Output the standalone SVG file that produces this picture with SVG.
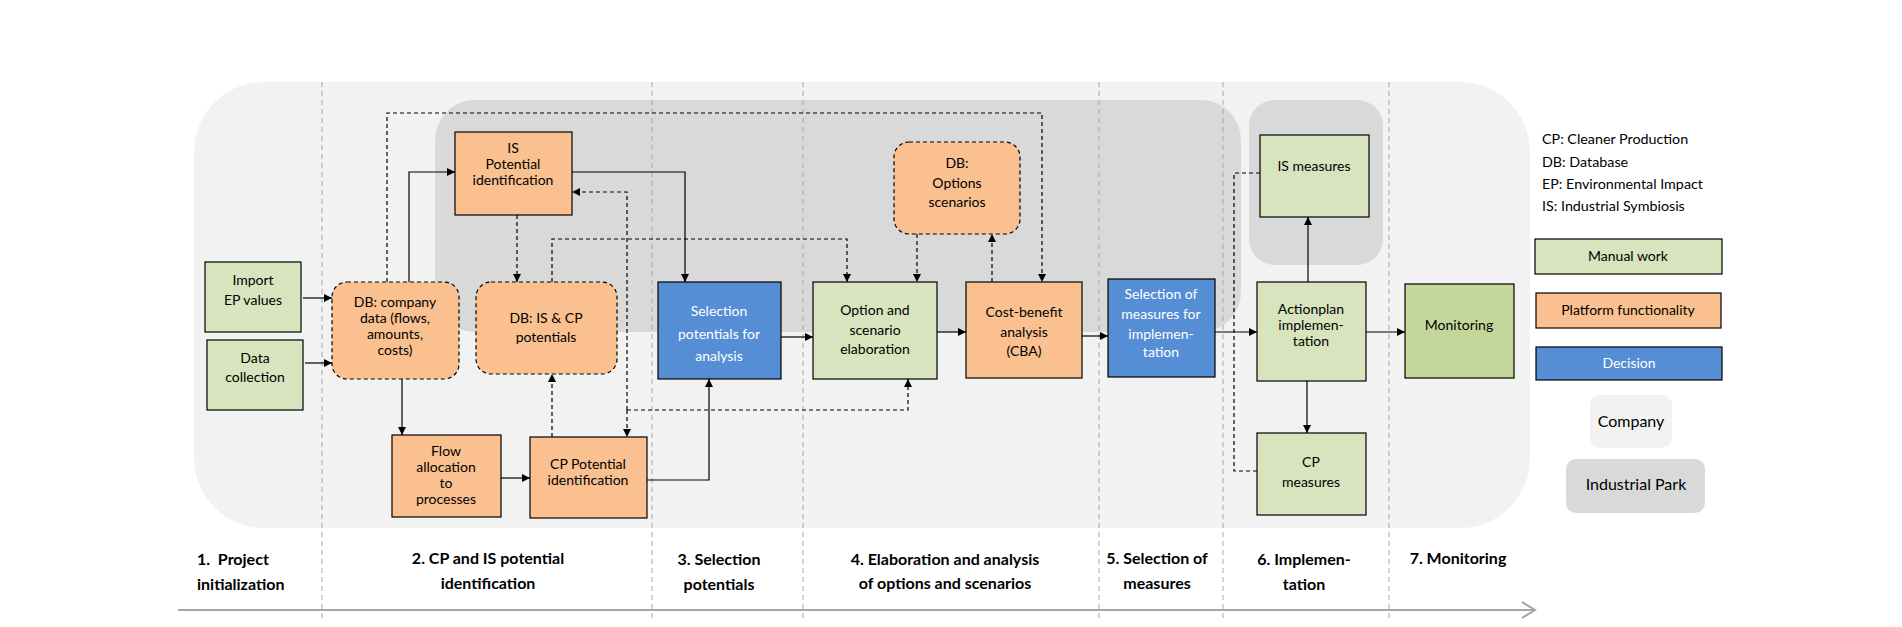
<svg xmlns="http://www.w3.org/2000/svg" width="1902" height="627" viewBox="0 0 1902 627">
<defs>
<marker id="ah" viewBox="0 0 8 8" refX="8" refY="4" markerWidth="8" markerHeight="8" markerUnits="userSpaceOnUse" orient="auto"><path d="M0,0 L8,4 L0,8 z" fill="#000"/></marker>
<style>
.t{font-family:Lato,"Liberation Sans",sans-serif;font-size:14px;fill:#000;text-anchor:middle}
.w{fill:#fff}
.ph{font-family:Lato,"Liberation Sans",sans-serif;font-size:16px;font-weight:bold;fill:#000;text-anchor:middle}
.lg{font-family:Lato,"Liberation Sans",sans-serif;font-size:14.3px;fill:#000}
.g{fill:#d7e4bd;stroke:#000;stroke-width:1.2}
.o{fill:#fac090;stroke:#000;stroke-width:1.2}
.b{fill:#558ed5;stroke:#000;stroke-width:1.2}
.db{fill:#fac090;stroke:#000;stroke-width:1.2;stroke-dasharray:4,3}
.c{fill:none;stroke:#000;stroke-width:1.2}
.d{fill:none;stroke:#000;stroke-width:1.2;stroke-dasharray:4,3}
.sep{stroke:#a6a6a6;stroke-width:1;stroke-dasharray:5,4}
</style>
</defs>
<g id="backgrounds">
<rect x="194" y="82" width="1336" height="446" rx="70" ry="70" fill="#f2f2f2"/>
<rect x="435" y="100" width="806" height="232" rx="40" ry="40" fill="#d9d9d9"/>
<rect x="1249" y="100" width="134" height="165" rx="26" ry="26" fill="#d9d9d9"/>
</g>
<g id="separators">
<line class="sep" x1="322" y1="82" x2="322" y2="622"/>
<line class="sep" x1="652" y1="82" x2="652" y2="622"/>
<line class="sep" x1="803" y1="82" x2="803" y2="622"/>
<line class="sep" x1="1099" y1="82" x2="1099" y2="622"/>
<line class="sep" x1="1223" y1="82" x2="1223" y2="622"/>
<line class="sep" x1="1389" y1="82" x2="1389" y2="622"/>
</g>
<g id="axis">
<line x1="178" y1="610" x2="1535" y2="610" stroke="#a6a6a6" stroke-width="2"/>
<path d="M1522,602 L1535,610 L1522,618" fill="none" stroke="#a6a6a6" stroke-width="2"/>
</g>
<g id="connectors">
<path class="c" d="M303,298 H332" marker-end="url(#ah)"/>
<path class="c" d="M305,363 H332" marker-end="url(#ah)"/>
<path class="c" d="M409,282 V172 H455" marker-end="url(#ah)"/>
<path class="c" d="M402,379 V435" marker-end="url(#ah)"/>
<path class="c" d="M501,478 H530" marker-end="url(#ah)"/>
<path class="c" d="M647,480 H709 V379" marker-end="url(#ah)"/>
<path class="c" d="M572,172 H685 V282" marker-end="url(#ah)"/>
<path class="d" d="M552,437 V374" marker-end="url(#ah)"/>
<path class="d" d="M517,215 V282" marker-end="url(#ah)"/>
<path class="d" d="M552,282 V239 H847 V282" marker-end="url(#ah)"/>
<path class="d" d="M627,410 H908 V379" marker-end="url(#ah)"/>
<path class="d" d="M627,410 V192 H572" marker-end="url(#ah)"/>
<path class="d" d="M627,410 V437" marker-end="url(#ah)"/>
<path class="d" d="M387,282 V113 H1042 V282" marker-end="url(#ah)"/>
<path class="d" d="M917,234 V282" marker-end="url(#ah)"/>
<path class="d" d="M992,282 V234" marker-end="url(#ah)"/>
<path class="c" d="M781,337 H813" marker-end="url(#ah)"/>
<path class="c" d="M937,332 H966" marker-end="url(#ah)"/>
<path class="c" d="M1082,336 H1108" marker-end="url(#ah)"/>
<path class="c" d="M1215,332 H1257" marker-end="url(#ah)"/>
<path class="c" d="M1366,332 H1405" marker-end="url(#ah)"/>
<path class="c" d="M1308,282 V217" marker-end="url(#ah)"/>
<path class="c" d="M1307,381 V433" marker-end="url(#ah)"/>
<path class="d" d="M1260,173 H1234 V471 H1257"/>
</g>
<g id="import-ep">
<rect class="g" x="205" y="262" width="96" height="70"/>
<text class="t" x="253" y="285">Import</text>
<text class="t" x="253" y="305">EP values</text>
</g>
<g id="data-collection">
<rect class="g" x="207" y="340" width="96" height="70"/>
<text class="t" x="255" y="363">Data</text>
<text class="t" x="255" y="382">collection</text>
</g>
<g id="db-company">
<rect class="db" x="332" y="282" width="127" height="97" rx="15" ry="15"/>
<text class="t" x="395" y="307">DB: company</text>
<text class="t" x="395" y="323">data (flows,</text>
<text class="t" x="395" y="339">amounts,</text>
<text class="t" x="395" y="355">costs)</text>
</g>
<g id="db-is-cp">
<rect class="db" x="476" y="282" width="141" height="92" rx="15" ry="15"/>
<text class="t" x="546" y="323">DB: IS &amp; CP</text>
<text class="t" x="546" y="342">potentials</text>
</g>
<g id="is-potential">
<rect class="o" x="455" y="132" width="117" height="83"/>
<text class="t" x="513" y="153">IS</text>
<text class="t" x="513" y="169">Potential</text>
<text class="t" x="513" y="185">identification</text>
</g>
<g id="flow-allocation">
<rect class="o" x="392" y="435" width="109" height="82"/>
<text class="t" x="446" y="456">Flow</text>
<text class="t" x="446" y="472">allocation</text>
<text class="t" x="446" y="488">to</text>
<text class="t" x="446" y="504">processes</text>
</g>
<g id="cp-potential">
<rect class="o" x="530" y="437" width="117" height="81"/>
<text class="t" x="588" y="469">CP Potential</text>
<text class="t" x="588" y="485">identification</text>
</g>
<g id="selection-potentials">
<rect class="b" x="658" y="282" width="123" height="97"/>
<text class="t w" x="719" y="316">Selection</text>
<text class="t w" x="719" y="339">potentials for</text>
<text class="t w" x="719" y="361">analysis</text>
</g>
<g id="option-scenario">
<rect class="g" x="813" y="282" width="124" height="97"/>
<text class="t" x="875" y="315">Option and</text>
<text class="t" x="875" y="335">scenario</text>
<text class="t" x="875" y="354">elaboration</text>
</g>
<g id="db-options">
<rect class="db" x="894" y="142" width="126" height="92" rx="15" ry="15"/>
<text class="t" x="957" y="168">DB:</text>
<text class="t" x="957" y="188">Options</text>
<text class="t" x="957" y="207">scenarios</text>
</g>
<g id="cba">
<rect class="o" x="966" y="282" width="116" height="96"/>
<text class="t" x="1024" y="317">Cost-benefit</text>
<text class="t" x="1024" y="337">analysis</text>
<text class="t" x="1024" y="356">(CBA)</text>
</g>
<g id="selection-measures">
<rect class="b" x="1108" y="279" width="107" height="98"/>
<text class="t w" x="1161" y="299">Selection of</text>
<text class="t w" x="1161" y="319">measures for</text>
<text class="t w" x="1161" y="339">implemen-</text>
<text class="t w" x="1161" y="357">tation</text>
</g>
<g id="actionplan">
<rect class="g" x="1257" y="282" width="109" height="99"/>
<text class="t" x="1311" y="314">Actionplan</text>
<text class="t" x="1311" y="330">implemen-</text>
<text class="t" x="1311" y="346">tation</text>
</g>
<g id="is-measures">
<rect class="g" x="1260" y="135" width="109" height="82"/>
<text class="t" x="1314" y="171">IS measures</text>
</g>
<g id="cp-measures">
<rect class="g" x="1257" y="433" width="109" height="82"/>
<text class="t" x="1311" y="467">CP</text>
<text class="t" x="1311" y="487">measures</text>
</g>
<g id="monitoring">
<rect x="1405" y="284" width="109" height="94" fill="#c4d79b" stroke="#000" stroke-width="1.2"/>
<text class="t" x="1459" y="330">Monitoring</text>
</g>
<g id="phases">
<text class="ph" x="197" y="565" style="text-anchor:start">1.&#160; Project</text>
<text class="ph" x="197" y="590" style="text-anchor:start">initialization</text>
<text class="ph" x="488" y="564">2. CP and IS potential</text>
<text class="ph" x="488" y="589">identification</text>
<text class="ph" x="719" y="565">3. Selection</text>
<text class="ph" x="719" y="590">potentials</text>
<text class="ph" x="945" y="565">4. Elaboration and analysis</text>
<text class="ph" x="945" y="589">of options and scenarios</text>
<text class="ph" x="1157" y="564">5. Selection of</text>
<text class="ph" x="1157" y="589">measures</text>
<text class="ph" x="1304" y="565">6. Implemen-</text>
<text class="ph" x="1304" y="590">tation</text>
<text class="ph" x="1458" y="564">7. Monitoring</text>
</g>
<g id="legend">
<text class="lg" x="1542" y="144">CP: Cleaner Production</text>
<text class="lg" x="1542" y="167">DB: Database</text>
<text class="lg" x="1542" y="189">EP: Environmental Impact</text>
<text class="lg" x="1542" y="211">IS: Industrial Symbiosis</text>
<rect class="g" x="1535" y="239" width="187" height="35"/>
<text class="t" x="1628" y="261">Manual work</text>
<rect class="o" x="1536" y="293" width="185" height="35"/>
<text class="t" x="1628" y="315">Platform functionality</text>
<rect class="b" x="1536" y="347" width="186" height="33"/>
<text class="t w" x="1629" y="368">Decision</text>
<rect x="1590" y="395" width="82" height="53" rx="10" ry="10" fill="#f2f2f2"/>
<text class="t" x="1631" y="427" style="font-size:16px">Company</text>
<rect x="1566" y="459" width="139" height="54" rx="10" ry="10" fill="#d9d9d9"/>
<text class="t" x="1636" y="490" style="font-size:16px">Industrial Park</text>
</g>
</svg>
